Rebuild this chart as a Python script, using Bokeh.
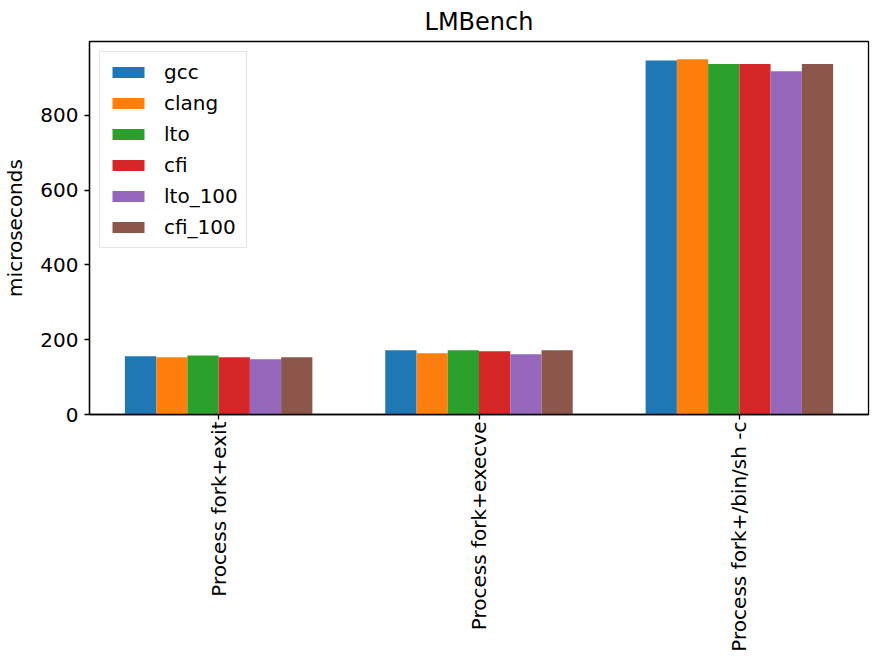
import math
from bokeh.plotting import figure
from bokeh.models import ColumnDataSource, FixedTicker, Range1d
from bokeh.transform import dodge
from bokeh.embed import file_html
from bokeh.resources import INLINE

categories = ["Process fork+exit", "Process fork+execve", "Process fork+/bin/sh -c"]
series_names = ["gcc", "clang", "lto", "cfi", "lto_100", "cfi_100"]
gcc = [155.7, 171.5, 947]
clang = [153, 163.6, 950]
lto = [158, 171.5, 937]
cfi = [153, 169, 937]
lto_100 = [148, 161, 918]
cfi_100 = [153, 171.5, 937]
colors = ["#1f77b4", "#ff7f0e", "#2ca02c", "#d62728", "#9467bd", "#8c564b"]
y_ticks = [0, 200, 400, 600, 800]

values = [gcc, clang, lto, cfi, lto_100, cfi_100]
data = {"x": list(range(len(categories)))}
for name, vals in zip(series_names, values):
    data[name] = vals
source = ColumnDataSource(data)

bar_w = 0.12
ymax = max(max(v) for v in values) * 1.05

p = figure(width=870, height=654, output_backend="svg", toolbar_location=None,
           title="LMBench", x_range=Range1d(-0.496, 2.496), y_range=Range1d(0, ymax),
           min_border_left=84, min_border_right=2, min_border_top=0, min_border_bottom=0)

font = "DejaVu Sans"
n = len(series_names)
for j, (name, col) in enumerate(zip(series_names, colors)):
    off = (j - (n - 1) / 2) * bar_w
    p.vbar(x=dodge("x", off), top=name, width=bar_w, bottom=0, source=source,
           fill_color=col, line_color=None, legend_label=name)

p.title.text_font = font
p.title.text_font_size = "24px"
p.title.text_font_style = "normal"
p.title.align = "center"
p.title.text_color = "black"
p.title.standoff = 11

p.xgrid.visible = False
p.ygrid.visible = False
p.outline_line_color = "black"
p.outline_line_width = 1.3
p.outline_line_alpha = 1

p.xaxis.ticker = FixedTicker(ticks=list(range(len(categories))))
p.xaxis.major_label_overrides = {i: c for i, c in enumerate(categories)}
p.xaxis.major_label_orientation = math.pi / 2
p.yaxis.ticker = FixedTicker(ticks=y_ticks)
p.yaxis.axis_label = "microseconds"
p.yaxis.axis_label_text_font = font
p.yaxis.axis_label_text_font_size = "20px"
p.yaxis.axis_label_text_font_style = "normal"
p.yaxis.axis_label_text_color = "black"
p.yaxis.axis_label_standoff = 10
for ax in (p.xaxis, p.yaxis):
    ax.major_label_text_font = font
    ax.major_label_text_font_size = "20px"
    ax.major_label_text_color = "black"
    ax.axis_line_color = "black"
    ax.axis_line_width = 1.3
    ax.major_tick_line_color = "black"
    ax.major_tick_line_width = 1.3
    ax.major_tick_out = 5
    ax.major_tick_in = 0
    ax.minor_tick_line_color = None
p.yaxis.major_label_standoff = 6
p.xaxis.major_label_standoff = 2

lg = p.legend[0]
lg.location = "top_left"
lg.margin = 10
lg.padding = 8
lg.spacing = 7
lg.glyph_width = 40
lg.glyph_height = 14
lg.label_height = 20
lg.label_standoff = 16
lg.label_text_font = font
lg.label_text_font_size = "20px"
lg.label_text_color = "black"
lg.border_line_color = "#cccccc"
lg.border_line_width = 1
lg.background_fill_alpha = 0.8

open("out.html", "w").write(file_html(p, INLINE))
